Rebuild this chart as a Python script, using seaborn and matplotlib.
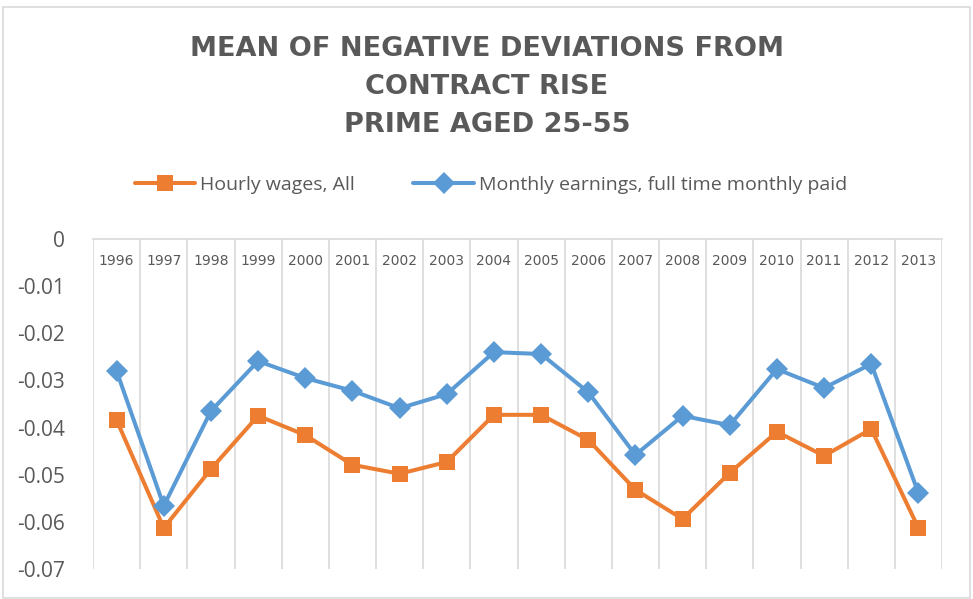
import numpy as np
import pandas as pd
import seaborn as sns
import matplotlib.pyplot as plt
from matplotlib.patches import Rectangle

# Values
years = [str(y) for y in range(1996, 2014)]
hourly_wages = [-0.0384, -0.0613, -0.0488, -0.0375, -0.0416, -0.0479, -0.0498, -0.0473, -0.0373,
                -0.0373, -0.0426, -0.0532, -0.0594, -0.0496, -0.0409, -0.0460, -0.0403, -0.0613]
monthly_earnings = [-0.0280, -0.0566, -0.0365, -0.0259, -0.0295, -0.0322, -0.0359, -0.0329, -0.0240,
                    -0.0244, -0.0325, -0.0458, -0.0375, -0.0395, -0.0276, -0.0316, -0.0265, -0.0539]
y_ticks = [0, -0.01, -0.02, -0.03, -0.04, -0.05, -0.06, -0.07]
y_tick_labels = ["0", "-0.01", "-0.02", "-0.03", "-0.04", "-0.05", "-0.06", "-0.07"]

df = pd.DataFrame({"pos": np.arange(len(years)), "hourly": hourly_wages, "monthly": monthly_earnings})

sns.set_style("white")
plt.rcParams["font.family"] = ["Open Sans", "DejaVu Sans"]
grey_text = "#595959"
grid_col = "#D9D9D9"

fig = plt.figure(figsize=(9.73, 5.99), dpi=100)
ax = fig.add_axes([93 / 973, 1 - 569 / 599, (942 - 93) / 973, (569 - 239) / 599])

sns.lineplot(data=df, x="pos", y="hourly", ax=ax, color="#ED7D31", linewidth=2.9,
             marker="s", markersize=12, markeredgewidth=0, label="Hourly wages, All")
sns.lineplot(data=df, x="pos", y="monthly", ax=ax, color="#5B9BD5", linewidth=2.9,
             marker="D", markersize=11, markeredgewidth=0,
             label="Monthly earnings, full time monthly paid")

ax.set_xlim(-0.5, len(years) - 0.5)
ax.set_ylim(-0.07, 0)
ax.set_xlabel("")
ax.set_ylabel("")

# category labels sit just under the zero line
ax.set_xticks(df["pos"])
ax.set_xticklabels(years, family="DejaVu Sans")
ax.xaxis.tick_top()
ax.tick_params(axis="x", length=0, pad=-21, labelsize=10, labelcolor=grey_text)
ax.set_xticks(np.arange(-0.5, len(years)), minor=True)
ax.tick_params(axis="x", which="minor", length=0)
ax.grid(True, axis="x", which="minor", color=grid_col, linewidth=1.2)
ax.grid(False, axis="x", which="major")
ax.grid(False, axis="y")

ax.set_yticks(y_ticks)
ax.set_yticklabels(y_tick_labels)
ax.tick_params(axis="y", length=0, pad=20, labelsize=15, labelcolor=grey_text)

for side in ["bottom", "right", "left"]:
    ax.spines[side].set_visible(False)
ax.spines["top"].set_color(grid_col)
ax.spines["top"].set_linewidth(1.2)

ax.legend(loc="center", bbox_to_anchor=(491 / 973, 1 - 185 / 599), bbox_transform=fig.transFigure,
          ncol=2, frameon=False, fontsize=14, handlelength=3.1, handletextpad=0.25,
          columnspacing=3.0, labelcolor=grey_text)

fig.text(487 / 973, 1 - 87 / 599, "MEAN OF NEGATIVE DEVIATIONS FROM\nCONTRACT RISE\nPRIME AGED 25-55",
         ha="center", va="center", fontsize=19.5, fontweight="bold", color=grey_text,
         linespacing=1.62, family="DejaVu Sans")

fig.patches.append(Rectangle((3 / 973, 1 - 598 / 599), 967 / 973, 591 / 599, transform=fig.transFigure,
                             fill=False, edgecolor=grid_col, linewidth=1.2))

fig.savefig("out.png", dpi=100)
